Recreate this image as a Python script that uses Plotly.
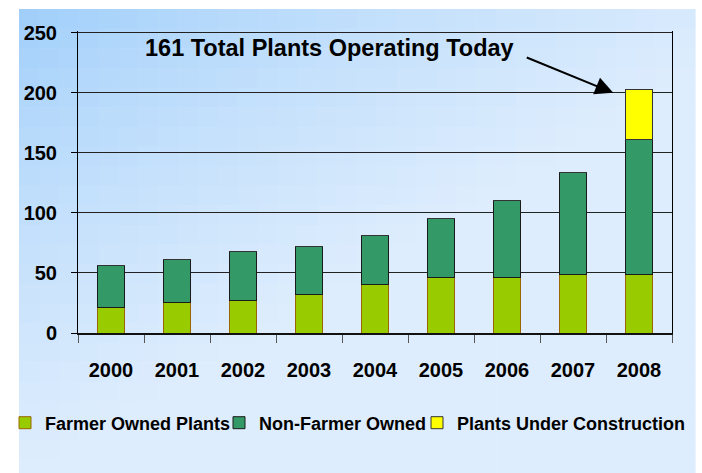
import plotly.graph_objects as go

years = ["2000", "2001", "2002", "2003", "2004", "2005", "2006", "2007", "2008"]
farmer_owned = [21, 25, 27, 32, 40, 46, 46, 49, 49]
non_farmer_owned = [35, 36, 41, 40, 41, 49, 64, 85, 112]
under_construction = [0, 0, 0, 0, 0, 0, 0, 0, 42]
series_names = ["Farmer Owned Plants", "Non-Farmer Owned", "Plants Under Construction"]
y_ticks = [0, 50, 100, 150, 200, 250]

W, H = 702, 473
ML, MR, MT, MB = 78, 30, 31, 140
PW, PH = W - ML - MR, H - MT - MB

def px_x(p):
    return (p - ML) / PW

def px_y(p):
    return (H - MB - p) / PH

FONT = "Liberation Sans, Arial, sans-serif"

fig = go.Figure()
fig.add_trace(go.Bar(x=years, y=farmer_owned, name=series_names[0], legend="legend",
                     marker=dict(color="#99CC00", line=dict(color="#996600", width=1))))
fig.add_trace(go.Bar(x=years, y=non_farmer_owned, name=series_names[1], legend="legend2",
                     marker=dict(color="#339966", line=dict(color="#1a1a1a", width=1))))
fig.add_trace(go.Bar(x=years, y=under_construction, name=series_names[2], legend="legend3",
                     marker=dict(color="#FFFF00", line=dict(color="#333333", width=1))))

# gradient background panel
shapes = []
X0, X1, Y0, Y1 = 19, 695, 9, 480
NX, NY = 34, 24
c0 = (155, 204, 250)
c1 = (222, 237, 253)
for i in range(NX):
    for j in range(NY):
        u = (i + 0.5) / NX
        v = (j + 0.5) / NY
        t = min(1.0, 0.85 * u + 1.0 * v)
        t = t ** 0.7
        col = tuple(int(round(c0[k] + (c1[k] - c0[k]) * t)) for k in range(3))
        xa = X0 + (X1 - X0) * i / NX
        xb = X0 + (X1 - X0) * (i + 1) / NX
        ya = Y0 + (Y1 - Y0) * j / NY
        yb = Y0 + (Y1 - Y0) * (j + 1) / NY
        shapes.append(dict(type="rect", xref="paper", yref="paper",
                           x0=px_x(xa), x1=px_x(xb + 0.6), y0=px_y(yb + 0.6), y1=px_y(ya),
                           line=dict(width=0), fillcolor="rgb(%d,%d,%d)" % col, layer="below"))

def legend_at(px):
    return dict(orientation="h", x=px_x(px), y=px_y(423), xanchor="left", yanchor="middle",
                font=dict(family=FONT, size=18, color="black", weight="bold"),
                bgcolor="rgba(0,0,0,0)", itemwidth=30)

fig.update_layout(
    width=W, height=H,
    margin=dict(l=ML, r=MR, t=MT, b=MB, pad=0, autoexpand=False),
    barmode="stack",
    bargap=0.59,
    paper_bgcolor="white",
    plot_bgcolor="rgba(0,0,0,0)",
    shapes=shapes,
    showlegend=True,
    legend=legend_at(5),
    legend2=legend_at(219),
    legend3=legend_at(417),
    xaxis=dict(type="category", showgrid=False, showline=True, linecolor="#111111", linewidth=2,
               mirror=False, ticks="outside", tickson="boundaries", ticklen=8, tickcolor="#555555",
               tickfont=dict(family=FONT, size=20, color="black", weight="bold"),
               ticklabelstandoff=18, automargin=False),
    yaxis=dict(range=[0, 251.5], tickvals=y_ticks, showgrid=True, gridcolor="#222222", gridwidth=1,
               showline=True, linecolor="black", linewidth=1, mirror=True, ticks="outside",
               ticklen=6, tickcolor="black", zeroline=False, automargin=False,
               tickfont=dict(family=FONT, size=20, color="black", weight="bold"),
               ticklabelstandoff=10),
    annotations=[
        dict(text="<b>161 Total Plants Operating Today</b>", xref="paper", yref="paper",
             x=px_x(329), y=px_y(48), showarrow=False, xanchor="center", yanchor="middle",
             font=dict(family=FONT, size=23.5, color="black")),
        dict(text="", x=7.61, y=200, xref="x", yref="y", showarrow=True,
             ax=-88, ay=-36, axref="pixel", ayref="pixel",
             arrowhead=2, arrowsize=1.8, arrowwidth=2, arrowcolor="black"),
    ],
)

fig.write_html("out.html", config={"displayModeBar": False},
               post_script="document.body.style.margin='0px';")
